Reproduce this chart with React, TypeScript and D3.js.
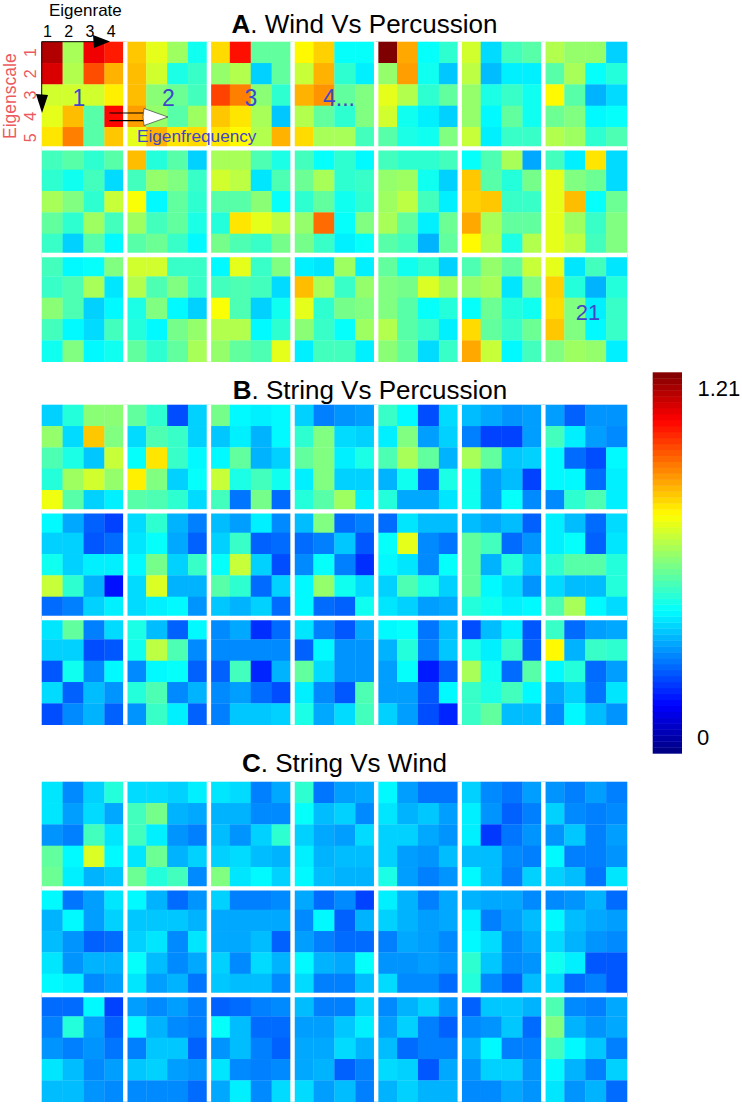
import React from "react";
import * as d3 from "d3";

const FONT = "'Liberation Sans', Arial, sans-serif";

// Each entry is one 5x4 block (eigenscale rows x eigenrate columns), read row by row, in % of the 1.21 maximum.
const windVsPercussion = [
  [95,54,89,85, 91,55,80,70, 58,58,58,64, 60,69,46,87, 65,75,46,68],
  [68,60,53,39, 69,58,40,43, 69,51,48,44, 72,52,46,53, 60,70,65,66],
  [66,86,47,47, 52,55,33,47, 81,75,51,42, 68,65,54,32, 65,63,55,70],
  [63,67,38,38, 57,70,42,36, 70,73,47,50, 55,47,42,50, 66,54,54,44],
  [100,71,38,42, 52,72,39,32, 60,55,42,47, 58,39,36,33, 46,40,39,50],
  [58,34,44,46, 56,31,36,36, 52,40,43,39, 52,37,47,39, 57,36,43,43],
  [55,52,52,33, 46,54,38,41, 63,46,30,34, 48,50,37,38, 55,53,42,45],
  [44,46,42,46, 42,39,44,34, 54,50,42,57, 47,42,53,44, 43,33,46,37],
  [69,41,46,33, 44,52,50,43, 62,37,47,42, 53,44,47,40, 46,48,43,37],
  [54,54,45,40, 58,56,35,45, 46,46,51,38, 41,65,60,56, 49,45,43,49],
  [44,38,42,37, 48,54,42,43, 42,47,39,42, 52,77,38,50, 49,43,36,38],
  [44,42,42,44, 52,53,39,33, 53,56,44,36, 54,47,36,48, 46,44,30,47],
  [38,45,54,29, 68,46,41,49, 67,68,43,43, 71,54,47,47, 63,55,40,55],
  [44,36,65,34, 60,50,48,34, 60,69,38,48, 60,53,43,50, 60,56,44,50],
  [44,37,38,50, 43,45,54,35, 51,45,33,37, 44,37,34,44, 39,50,37,39],
  [58,58,43,43, 55,45,50,43, 40,50,37,33, 41,37,49,52, 47,42,47,54],
  [37,60,43,50, 44,45,44,34, 62,45,33,39, 55,55,37,42, 52,47,45,60],
  [36,35,53,36, 69,54,43,52, 60,42,49,50, 51,43,38,53, 36,44,44,36],
  [47,39,42,33, 50,49,59,53, 50,46,38,41, 55,46,43,36, 51,47,34,43],
  [45,52,47,57, 52,54,35,50, 38,48,41,39, 66,47,43,48, 71,57,37,44],
  [60,35,44,35, 67,41,30,41, 66,50,36,43, 68,50,37,43, 50,53,52,36],
];

const stringVsPercussion = [
  [33,41,51,51, 52,34,68,50, 45,40,32,57, 41,53,58,52, 61,46,33,36],
  [47,42,20,33, 34,45,43,33, 38,65,43,37, 64,50,33,38, 46,45,42,34],
  [49,37,36,37, 32,36,30,37, 37,47,30,33, 57,40,44,39, 44,24,49,23],
  [33,25,27,28, 42,50,34,33, 47,50,36,40, 36,50,33,33, 41,46,53,36],
  [43,37,20,34, 36,50,28,33, 45,54,47,30, 30,39,21,40, 41,29,29,35],
  [31,29,27,28, 25,19,19,28, 54,47,32,33, 39,28,31,19, 39,28,38,26],
  [28,22,27,27, 44,36,28,26, 37,23,20,37, 37,37,23,36, 26,42,45,36],
  [37,29,22,19, 33,33,21,23, 39,33,36,36, 57,42,30,14, 23,25,33,36],
  [34,42,30,25, 35,38,29,22, 37,49,33,43, 34,59,30,30, 34,36,37,27],
  [31,28,36,26, 33,43,22,23, 38,57,33,20, 46,42,23,33, 32,30,33,23],
  [31,50,23,25, 23,25,32,21, 26,38,25,17, 37,52,39,34, 37,23,22,39],
  [23,35,31,31, 38,60,26,24, 37,35,26,38, 33,45,40,33, 35,33,28,29],
  [31,29,31,22, 47,44,23,27, 47,30,41,32, 47,37,34,27, 41,39,36,37],
  [36,31,23,34, 36,38,22,35, 42,46,46,41, 34,31,31,41, 45,54,37,34],
  [35,47,25,34, 33,33,20,21, 21,39,26,37, 34,22,31,27, 20,26,30,22],
  [40,31,22,37, 39,56,45,26, 26,37,38,22, 41,45,26,30, 27,43,36,22],
  [26,29,17,23, 26,26,26,26, 22,44,16,30, 26,28,23,20, 25,32,32,33],
  [35,25,21,29, 22,37,27,27, 47,34,27,27, 36,26,21,45, 40,29,34,44],
  [37,38,24,31, 30,41,25,32, 28,38,15,22, 28,28,21,37, 33,28,20,16],
  [20,31,36,21, 40,36,43,22, 54,39,23,46, 43,40,44,37, 43,47,31,31],
  [43,23,28,29, 63,30,43,42, 37,41,23,28, 29,33,24,35, 26,37,31,27],
];

const stringVsWind = [
  [35,26,33,41, 35,28,34,29, 27,25,44,35, 47,37,59,37, 48,36,30,32],
  [34,34,33,36, 44,49,30,29, 44,36,27,25, 35,48,30,33, 48,41,44,26],
  [35,34,25,29, 30,30,26,26, 31,27,33,42, 33,34,31,30, 50,35,37,33],
  [42,24,28,29, 38,31,33,26, 33,29,28,34, 36,30,31,31, 37,31,30,30],
  [37,28,24,24, 35,30,32,28, 33,33,29,27, 33,28,27,31, 40,28,25,27],
  [33,26,24,28, 36,27,22,25, 36,18,24,27, 31,31,26,25, 37,31,25,33],
  [27,25,28,25, 33,26,25,26, 27,32,25,28, 37,25,25,27, 33,31,24,35],
  [37,24,28,35, 30,37,28,33, 31,27,22,23, 35,27,30,30, 37,36,26,28],
  [37,30,23,27, 32,32,32,30, 33,35,26,35, 38,31,26,29, 35,28,30,24],
  [33,25,25,26, 29,29,29,29, 29,29,31,22, 33,26,34,30, 32,31,31,26],
  [29,23,26,19, 26,37,22,30, 28,25,23,23, 37,30,29,38, 34,25,25,31],
  [36,30,25,29, 33,30,28,29, 25,29,28,26, 27,27,28,27, 34,26,26,23],
  [30,29,29,26, 36,25,28,31, 37,34,26,29, 42,32,26,27, 41,26,22,31],
  [26,27,30,23, 37,31,29,28, 34,30,27,26, 39,36,21,21, 34,23,25,21],
  [23,23,37,19, 25,41,28,22, 27,25,27,24, 35,31,26,28, 31,31,27,26],
  [28,26,28,25, 37,30,26,25, 25,32,32,22, 32,33,28,27, 26,26,26,23],
  [22,23,25,26, 38,31,23,23, 27,31,25,22, 35,26,25,26, 29,36,26,34],
  [31,25,25,33, 28,28,32,36, 29,29,34,30, 29,30,22,25, 34,28,31,25],
  [26,30,33,27, 28,33,25,22, 31,23,25,25, 34,33,21,29, 30,33,30,30],
  [22,32,32,30, 26,27,32,23, 30,37,25,25, 27,33,33,27, 26,26,29,27],
  [45,26,25,29, 50,30,27,29, 44,37,32,25, 37,30,25,33, 35,27,30,23],
];

const rateLabels = ["1", "2", "3", "4"];
const scaleLabels = ["1", "2", "3", "4", "5"];
const colorbarLabels = ["1.21", "0"];

const blockColumns = 7;
const blockRows = 3;
const ratesPerBlock = 4;
const scalesPerBlock = 5;

const jet = d3
  .scaleLinear<string>()
  .domain([0, 12.5, 37.5, 62.5, 87.5, 100])
  .range(["#00007f", "#0000ff", "#00ffff", "#ffff00", "#ff0000", "#7f0000"])
  .interpolate(d3.interpolateRgb.gamma(1));

const x = d3
  .scaleBand<number>()
  .domain(d3.range(blockColumns * ratesPerBlock))
  .range([41.7, 627]);

const panelTop = [41.7, 404.7, 781.7];
const panelHeight = 320;

const barY = d3.scaleBand<number>().domain(d3.range(64)).range([753.3, 372.3]);

function Panel({ blocks, top }: { blocks: number[][]; top: number }) {
  const y = d3
    .scaleBand<number>()
    .domain(d3.range(blockRows * scalesPerBlock))
    .range([top, top + panelHeight]);
  const cw = x.bandwidth();
  const ch = y.bandwidth();
  return (
    <g>
      {blocks.map((block, b) =>
        block.map((v, i) => {
          const col = (b % blockColumns) * ratesPerBlock + (i % ratesPerBlock);
          const row = Math.floor(b / blockColumns) * scalesPerBlock + Math.floor(i / ratesPerBlock);
          return (
            <rect
              key={`${b}-${i}`}
              x={x(col)}
              y={y(row)}
              width={cw + 0.3}
              height={ch + 0.3}
              fill={jet(v)}
            />
          );
        })
      )}
      {d3.range(1, blockColumns).map((c) => {
        const px = x(c * ratesPerBlock)!;
        return <line key={`v${c}`} x1={px} x2={px} y1={top} y2={top + panelHeight} stroke="#fff" strokeWidth={4.4} />;
      })}
      {d3.range(1, blockRows).map((r) => {
        const py = y(r * scalesPerBlock)!;
        return <line key={`h${r}`} x1={41.7} x2={627} y1={py} y2={py} stroke="#fff" strokeWidth={4.4} />;
      })}
    </g>
  );
}

function Title({ letter, rest, cx, y }: { letter: string; rest: string; cx: number; y: number }) {
  return (
    <text x={cx} y={y} fontSize={26} textAnchor="middle" fill="#000">
      <tspan fontWeight="bold">{letter}</tspan>
      {rest}
    </text>
  );
}

const BLUE = "#3f46c8";
const RED = "#ec5a5e";

export default function App() {
  return (
    <svg
      width={742}
      height={1106}
      viewBox="0 0 742 1106"
      style={{ position: "absolute", left: 0, top: 0, background: "#fff" }}
      fontFamily={FONT}
    >
      <Panel blocks={windVsPercussion} top={panelTop[0]} />
      <Panel blocks={stringVsPercussion} top={panelTop[1]} />
      <Panel blocks={stringVsWind} top={panelTop[2]} />

      <Title letter="A" rest=". Wind Vs Percussion" cx={364.5} y={33} />
      <Title letter="B" rest=". String Vs Percussion" cx={370} y={399} />
      <Title letter="C" rest=". String Vs Wind" cx={344.5} y={772} />

      {/* colour bar */}
      {barY.domain().map((i) => (
        <rect
          key={i}
          x={652.7}
          y={barY(i)}
          width={29.3}
          height={barY.bandwidth() + 0.4}
          fill={jet(((i + 0.5) / 64) * 100)}
        />
      ))}
      <text x={697.5} y={396} fontSize={22} fill="#000">{colorbarLabels[0]}</text>
      <text x={697} y={745} fontSize={22} fill="#000">{colorbarLabels[1]}</text>

      {/* axis annotations */}
      <text x={49} y={16} fontSize={17} fill="#000">Eigenrate</text>
      {rateLabels.map((t, i) => (
        <text key={t} x={47.5 + i * 21.2} y={37} fontSize={16} textAnchor="middle" fill="#000">{t}</text>
      ))}
      <text transform="translate(15.5,139) rotate(-90)" fontSize={17.5} fill={RED}>Eigenscale</text>
      {scaleLabels.map((t, i) => (
        <text
          key={t}
          transform={`translate(36,${52.5 + i * 21.3}) rotate(-90)`}
          fontSize={16}
          textAnchor="middle"
          fill={RED}
        >
          {t}
        </text>
      ))}

      {/* arrows */}
      <line x1={41.7} y1={41.7} x2={100} y2={41.7} stroke="#000" strokeWidth={1} />
      <path d="M93,35 L110,41.5 L94,48 Z" fill="#000" />
      <line x1={41.7} y1={41.7} x2={41.7} y2={100} stroke="#000" strokeWidth={1} />
      <path d="M36,94 L48,95 L42,113 Z" fill="#000" />
      <line x1={109} y1={113} x2={145} y2={113} stroke="#000" strokeWidth={1.2} />
      <line x1={109} y1={120.7} x2={145} y2={120.7} stroke="#000" strokeWidth={1.2} />
      <path d="M144,108.5 Q142,117 144,125.5 L168,117 Z" fill="#fff" stroke="#222" strokeWidth={0.6} />

      {/* blue block labels */}
      <text x={79} y={106} fontSize={23} textAnchor="middle" fill={BLUE}>1</text>
      <text x={168.5} y={106} fontSize={23} textAnchor="middle" fill={BLUE}>2</text>
      <text x={251} y={106} fontSize={23} textAnchor="middle" fill={BLUE}>3</text>
      <text x={323} y={106} fontSize={23} fill={BLUE}>4...</text>
      <text x={588} y={320} fontSize={22} textAnchor="middle" fill={BLUE}>21</text>
      <text x={137} y={141.5} fontSize={17.2} fill={BLUE}>Eigenfrequency</text>
    </svg>
  );
}
